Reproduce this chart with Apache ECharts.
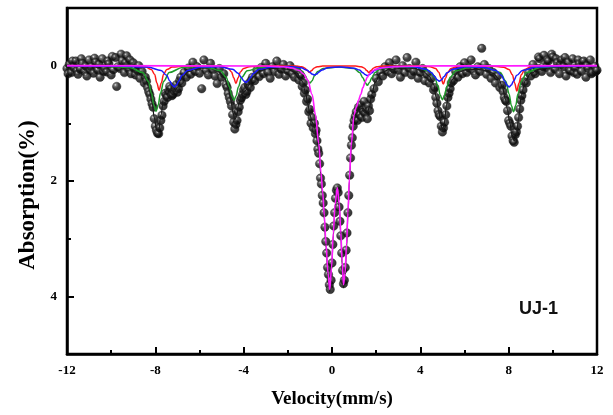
<!DOCTYPE html>
<html>
<head>
<meta charset="utf-8">
<script src="https://cdn.jsdelivr.net/npm/echarts@6.0.0/dist/echarts.min.js"></script>
<style>
html,body{margin:0;padding:0;background:#fff;}
#chart{width:613px;height:415px;}
</style>
</head>
<body>
<div id="chart"></div>
<script>
// ---- axis ticks / labels ----
var xTickLabels = [-12, -8, -4, 0, 4, 8, 12];
var yTickLabels = [0, 2, 4];
var yMinorTicks = [1, 3];
var sampleLabel = 'UJ-1';

// ---- measured spectrum: [velocity (mm/s), absorption (%)] ----
var measured = [
[-12.0,0.05],[-11.95,0.14],[-11.9,-0.02],[-11.8,0.12],[-11.75,-0.08],[-11.7,0.03],[-11.6,-0.08],[-11.55,0.09],[-11.5,0.15],[-11.4,0.06],[-11.35,-0.12],[-11.3,-0.04],[-11.2,0.10],[-11.15,0.01],[-11.1,0.18],[-11.0,-0.10],[-10.95,0.08],[-10.9,0.02],[-10.8,0.13],[-10.75,-0.13],[-10.7,-0.06],[-10.6,0.08],[-10.55,-0.02],[-10.5,0.20],[-10.4,-0.12],[-10.35,0.10],[-10.3,0.04],[-10.2,0.11],[-10.15,-0.08],[-10.1,-0.03],[-10.0,0.16],[-9.95,-0.16],[-9.9,0.07],[-9.8,-0.14],[-9.75,0.36],[-9.7,0.02],[-9.6,0.05],[-9.55,-0.20],[-9.5,-0.09],[-9.4,0.12],[-9.35,-0.05],[-9.3,-0.17],[-9.2,0.06],[-9.15,-0.10],[-9.1,0.14],[-9.0,-0.05],[-8.95,0.05],[-8.9,0.16],[-8.8,0.09],[-8.75,0.00],[-8.7,0.22],
[-8.6,0.10],[-8.5,0.30],[-8.45,0.20],[-8.4,0.27],[-8.35,0.38],[-8.3,0.45],[-8.25,0.50],[-8.2,0.58],[-8.15,0.66],[-8.1,0.72],[-8.05,0.92],[-8.0,1.05],[-7.95,1.12],[-7.9,1.17],[-7.85,1.18],[-7.8,1.08],[-7.75,0.95],[-7.7,0.86],[-7.65,0.70],[-7.6,0.62],[-7.55,0.48],[-7.5,0.51],[-7.45,0.55],[-7.4,0.45],[-7.35,0.36],[-7.3,0.40],[-7.25,0.52],[-7.2,0.50],[-7.15,0.44],[-7.1,0.38],[-7.05,0.33],[-7.0,0.46],[-6.95,0.40],[-6.9,0.26],[-6.85,0.20],[-6.8,0.30],[-6.7,0.12],[-6.6,0.20],[-6.5,0.04],[-6.4,0.15],[-6.3,-0.06],[-6.2,0.10],[-6.1,0.02],[-6.0,0.13],[-5.9,0.40],[-5.8,-0.10],[-5.7,0.08],[-5.6,0.16],[-5.5,-0.04],[-5.4,0.07],[-5.3,0.18],[-5.2,0.31],[-5.1,0.05],[-5.0,0.20],[-4.9,0.14],
[-4.8,0.33],[-4.75,0.38],[-4.7,0.48],[-4.65,0.55],[-4.6,0.62],[-4.55,0.70],[-4.5,0.85],[-4.45,0.98],[-4.4,1.10],[-4.35,1.02],[-4.3,0.95],[-4.25,0.80],[-4.2,0.72],[-4.15,0.60],[-4.1,0.56],[-4.05,0.50],[-4.0,0.42],[-3.95,0.38],[-3.9,0.50],[-3.85,0.45],[-3.8,0.33],[-3.75,0.30],[-3.7,0.38],[-3.65,0.25],[-3.6,0.20],[-3.5,0.26],[-3.4,0.08],[-3.3,0.19],[-3.2,0.03],[-3.1,0.14],[-3.0,-0.04],[-2.9,0.12],[-2.8,0.22],[-2.7,0.02],[-2.6,0.10],[-2.5,-0.08],[-2.4,0.15],[-2.3,0.06],[-2.2,-0.02],[-2.1,0.18],[-2.0,0.09],[-1.9,0.00],[-1.8,0.14],[-1.7,0.20],[-1.6,0.08],
[-1.5,0.25],[-1.45,0.15],[-1.4,0.18],[-1.35,0.36],[-1.3,0.30],[-1.25,0.48],[-1.2,0.42],[-1.15,0.62],[-1.1,0.58],[-1.05,0.80],[-1.0,0.76],[-0.95,1.00],[-0.9,0.90],[-0.85,1.08],[-0.8,1.00],[-0.75,1.18],[-0.72,1.12],[-0.68,1.30],[-0.64,1.45],[-0.6,1.52],[-0.56,1.70],[-0.52,1.95],[-0.48,2.05],[-0.44,2.25],[-0.4,2.38],[-0.36,2.55],[-0.32,2.8],[-0.28,3.05],[-0.24,3.25],[-0.2,3.5],[-0.16,3.62],[-0.12,3.8],[-0.08,3.88],[-0.04,3.72],[0.0,3.42],[0.04,3.1],[0.08,2.78],[0.12,2.55],[0.16,2.3],[0.2,2.16],[0.24,2.12],[0.28,2.2],[0.32,2.45],[0.36,2.7],[0.4,2.95],[0.44,3.25],[0.48,3.55],[0.52,3.78],[0.56,3.72],[0.6,3.5],[0.64,3.2],[0.68,2.9],[0.72,2.55],[0.76,2.25],[0.8,1.9],[0.84,1.6],[0.88,1.38],[0.92,1.25],[0.96,1.05],[1.0,0.95],[1.05,0.88],[1.1,0.8],[1.15,0.95],[1.2,0.72],[1.25,0.85],[1.3,0.68],[1.35,0.9],[1.4,0.78],[1.45,0.62],[1.5,0.83],[1.55,0.75],[1.6,0.92],[1.65,0.7],[1.7,0.78],[1.75,0.58],[1.8,0.5],[1.9,0.4],[2.0,0.22],[2.1,0.28],[2.2,0.12],[2.3,0.18],[2.4,0.02],[2.5,0.10],
[2.6,-0.05],[2.7,0.14],[2.8,0.06],[2.9,-0.10],[3.0,0.08],[3.1,0.20],[3.2,0.00],[3.3,0.12],[3.4,-0.14],[3.5,0.05],[3.6,0.16],[3.7,0.10],[3.8,-0.06],[3.9,0.22],[4.0,0.12],[4.1,0.05],[4.2,0.26],[4.3,0.15],[4.4,0.30],[4.5,0.22],
[4.6,0.42],[4.65,0.38],[4.7,0.55],[4.75,0.65],[4.8,0.78],[4.85,0.85],[4.9,0.88],[4.95,1.05],[5.0,1.15],[5.05,1.08],[5.1,0.98],[5.15,0.85],[5.2,0.70],[5.25,0.55],[5.3,0.48],[5.35,0.40],[5.4,0.30],[5.5,0.26],[5.6,0.10],[5.7,0.20],[5.8,0.02],[5.9,0.14],[6.0,-0.05],[6.1,0.12],[6.2,0.04],[6.3,-0.10],[6.4,0.09],[6.5,0.16],[6.6,0.02],[6.7,0.10],[6.78,-0.30],[6.9,-0.02],[7.0,0.15],[7.1,0.05],[7.2,0.22],[7.3,0.12],[7.4,0.30],[7.5,0.18],[7.6,0.38],[7.7,0.34],
[7.75,0.45],[7.8,0.55],[7.85,0.60],[7.9,0.62],[7.95,0.78],[8.0,0.95],[8.05,1.00],[8.1,1.05],[8.15,1.22],[8.2,1.30],[8.25,1.33],[8.3,1.20],[8.35,1.15],[8.4,1.05],[8.45,0.90],[8.5,0.75],[8.55,0.60],[8.6,0.52],[8.65,0.42],[8.7,0.28],[8.8,0.30],[8.9,0.12],[9.0,0.18],
[9.1,-0.02],[9.15,0.10],[9.2,0.14],[9.3,0.05],[9.35,-0.15],[9.4,-0.12],[9.5,0.10],[9.55,0.02],[9.6,-0.18],[9.7,0.03],[9.75,-0.10],[9.8,-0.08],[9.9,0.12],[9.95,-0.20],[10.0,-0.15],[10.1,0.06],[10.15,-0.12],[10.2,-0.05],[10.3,0.14],[10.35,-0.02],[10.4,-0.10],[10.5,0.02],[10.55,-0.14],[10.6,0.18],[10.7,-0.06],[10.75,0.08],[10.8,0.09],[10.9,-0.12],[10.95,0.12],[11.0,0.04],[11.1,0.15],[11.15,-0.10],[11.2,-0.03],[11.3,0.10],[11.35,-0.06],[11.4,-0.08],[11.5,0.20],[11.55,0.00],[11.6,0.05],[11.7,-0.10],[11.75,0.14],[11.8,0.12],[11.9,0.01],[11.95,0.10],[12.0,0.08]
];

// ---- total fit (black) ----
var fitTotal = [
[-12,0],[-11,0.005],[-10,0.015],[-9.6,0.03],[-9.2,0.045],[-8.8,0.089],[-8.5,0.184],[-8.3,0.354],[-8.15,0.631],[-8.05,0.895],[-7.95,1.097],[-7.85,1.128],[-7.75,0.86],[-7.6,0.496],[-7.45,0.397],[-7.3,0.425],[-7.15,0.457],[-7.0,0.374],[-6.8,0.217],[-6.5,0.10],[-6.0,0.043],[-5.6,0.041],[-5.2,0.084],[-4.9,0.182],[-4.7,0.373],[-4.58,0.597],[-4.48,0.82],[-4.4,0.936],[-4.32,0.875],[-4.22,0.66],[-4.1,0.50],[-3.98,0.454],[-3.88,0.418],[-3.75,0.326],[-3.55,0.186],[-3.3,0.098],[-2.9,0.046],[-2.5,0.05],[-2.0,0.066],[-1.6,0.125],[-1.35,0.27],[-1.2,0.457],[-1.1,0.66],[-1.0,0.85],[-0.9,0.98],[-0.8,1.06],[-0.7,1.24],[-0.6,1.45],[-0.5,1.92],[-0.42,2.27],[-0.35,2.66],[-0.27,3.15],[-0.18,3.65],[-0.1,3.92],[-0.02,3.55],[0.06,2.95],[0.14,2.45],[0.24,2.17],[0.33,2.45],[0.4,2.95],[0.46,3.45],[0.52,3.85],[0.59,3.65],[0.66,3.15],[0.72,2.6],[0.79,2.0],[0.87,1.45],[1.0,0.94],[1.1,0.84],[1.2,0.77],[1.3,0.75],[1.4,0.74],[1.5,0.78],[1.6,0.81],[1.7,0.71],[1.8,0.5],[1.95,0.29],[2.2,0.13],[2.6,0.065],[3.2,0.045],[3.7,0.043],[4.1,0.088],[4.4,0.18],[4.6,0.322],[4.72,0.547],[4.82,0.757],[4.92,0.991],[5.0,1.116],[5.08,1.017],[5.18,0.695],[5.3,0.415],[5.45,0.238],[5.7,0.117],[6.1,0.07],[6.6,0.066],[7.0,0.085],[7.3,0.134],[7.55,0.229],[7.72,0.379],[7.85,0.574],[7.95,0.772],[8.05,0.993],[8.15,1.2],[8.25,1.3],[8.35,1.24],[8.45,0.908],[8.58,0.5],[8.75,0.265],[9.0,0.135],[9.4,0.062],[10,0.028],[11,0.01],[12,0]
];

// ---- sextet A (green) ----
var fitGreen = [
[-12,0],[-10.5,0.01],[-9.17,0.03],[-8.57,0.12],[-8.32,0.27],[-8.17,0.48],[-8.07,0.68],[-7.97,0.79],[-7.87,0.68],[-7.77,0.48],[-7.62,0.27],[-7.37,0.12],[-6.77,0.03],[-6.2,0.02],[-5.64,0.03],[-5.04,0.09],[-4.79,0.2],[-4.64,0.37],[-4.54,0.52],[-4.44,0.6],[-4.34,0.52],[-4.24,0.37],[-4.09,0.2],[-3.84,0.09],[-3.24,0.03],[-2.2,0.02],[-1.6,0.05],[-1.35,0.1],[-1.2,0.18],[-1.1,0.26],[-1.0,0.3],[-0.9,0.26],[-0.8,0.18],[-0.65,0.1],[-0.4,0.05],[0.3,0.025],[1.0,0.05],[1.25,0.12],[1.4,0.21],[1.5,0.29],[1.6,0.34],[1.7,0.29],[1.8,0.21],[1.95,0.12],[2.2,0.05],[2.8,0.02],[3.8,0.025],[4.4,0.09],[4.65,0.2],[4.8,0.36],[4.9,0.51],[5.0,0.59],[5.1,0.51],[5.2,0.36],[5.35,0.2],[5.6,0.09],[6.2,0.03],[6.6,0.025],[7.02,0.035],[7.62,0.12],[7.87,0.27],[8.02,0.49],[8.12,0.69],[8.22,0.8],[8.32,0.69],[8.42,0.49],[8.57,0.27],[8.82,0.12],[9.42,0.03],[10.5,0.01],[12,0]
];

// ---- sextet B (red) ----
var fitRed = [
[-12,0],[-9.03,0.006],[-8.43,0.025],[-8.18,0.067],[-8.03,0.155],[-7.93,0.3],[-7.83,0.43],[-7.73,0.3],[-7.63,0.155],[-7.48,0.067],[-7.23,0.025],[-6.63,0.006],[-5.55,0.005],[-4.95,0.018],[-4.7,0.048],[-4.55,0.11],[-4.45,0.21],[-4.35,0.31],[-4.25,0.21],[-4.15,0.11],[-4.0,0.048],[-3.75,0.018],[-3.15,0.005],[-1.62,0.007],[-1.37,0.019],[-1.22,0.043],[-1.12,0.083],[-1.02,0.12],[-0.92,0.083],[-0.82,0.043],[-0.67,0.019],[-0.42,0.007],[1.07,0.007],[1.32,0.019],[1.47,0.043],[1.57,0.083],[1.67,0.12],[1.77,0.083],[1.87,0.043],[2.02,0.019],[2.27,0.007],[3.84,0.005],[4.44,0.019],[4.69,0.05],[4.84,0.115],[4.94,0.22],[5.04,0.32],[5.14,0.22],[5.24,0.115],[5.39,0.05],[5.64,0.019],[6.24,0.005],[7.17,0.007],[7.77,0.026],[8.02,0.068],[8.17,0.158],[8.27,0.3],[8.37,0.44],[8.47,0.3],[8.57,0.158],[8.72,0.068],[8.97,0.026],[9.57,0.007],[12,0]
];

// ---- sextet C (blue) ----
var fitBlue = [
[-12,0],[-9.5,0.01],[-8.34,0.024],[-7.74,0.082],[-7.49,0.168],[-7.34,0.266],[-7.24,0.337],[-7.14,0.37],[-7.04,0.337],[-6.94,0.266],[-6.79,0.168],[-6.54,0.082],[-5.94,0.024],[-5.1,0.02],[-4.5,0.064],[-4.25,0.132],[-4.1,0.209],[-4.0,0.264],[-3.9,0.29],[-3.8,0.264],[-3.7,0.209],[-3.55,0.132],[-3.3,0.064],[-2.7,0.022],[-2.0,0.014],[-1.4,0.035],[-1.15,0.073],[-1.0,0.115],[-0.9,0.146],[-0.8,0.16],[-0.7,0.146],[-0.6,0.115],[-0.45,0.073],[-0.2,0.035],[0.4,0.022],[1.0,0.043],[1.25,0.077],[1.4,0.122],[1.5,0.155],[1.6,0.17],[1.7,0.155],[1.8,0.122],[1.95,0.077],[2.2,0.038],[2.8,0.013],[3.66,0.02],[4.26,0.06],[4.51,0.123],[4.66,0.194],[4.76,0.246],[4.86,0.27],[4.96,0.246],[5.06,0.194],[5.21,0.123],[5.46,0.06],[6.06,0.02],[6.82,0.026],[7.42,0.082],[7.67,0.168],[7.82,0.266],[7.92,0.337],[8.02,0.37],[8.12,0.337],[8.22,0.266],[8.37,0.168],[8.62,0.082],[9.22,0.024],[10.5,0.008],[12,0]
];

// ---- doublet (magenta) ----
var fitMagenta = [
[-12,0],[-3.0,0.005],[-2.2,0.02],[-1.8,0.04],[-1.5,0.08],[-1.3,0.14],[-1.1,0.25],[-0.9,0.5],[-0.75,0.85],[-0.6,1.35],[-0.5,1.85],[-0.42,2.2],[-0.35,2.6],[-0.27,3.1],[-0.18,3.6],[-0.1,3.88],[-0.02,3.5],[0.06,2.9],[0.14,2.4],[0.24,2.12],[0.33,2.4],[0.4,2.9],[0.46,3.4],[0.52,3.8],[0.59,3.6],[0.66,3.1],[0.72,2.55],[0.79,1.95],[0.87,1.38],[1.0,0.85],[1.1,0.72],[1.2,0.6],[1.3,0.5],[1.4,0.38],[1.5,0.28],[1.6,0.2],[1.7,0.14],[1.85,0.09],[2.0,0.06],[2.3,0.035],[2.8,0.02],[3.5,0.01],[5,0.004],[12,0]
];

var serif = '"Liberation Serif","Times New Roman",serif';
var chart = echarts.init(document.getElementById('chart'), null, {renderer: 'canvas'});

function fitLine(data, color, width, z) {
  return {
    type: 'line', data: data, showSymbol: false, symbol: 'none',
    smooth: 0.35, smoothMonotone: 'x', z: z,
    lineStyle: {color: color, width: width}, silent: true
  };
}

chart.setOption({
  animation: false,
  backgroundColor: '#fff',
  grid: {left: 67, right: 16, top: 8, bottom: 61, show: true, borderColor: '#000', borderWidth: 2.5, backgroundColor: 'transparent'},
  title: {
    text: sampleLabel, left: 519, top: 300, padding: 0,
    textStyle: {fontFamily: '"Liberation Sans",Arial,sans-serif', fontWeight: 'bold', fontSize: 18, color: '#111'}
  },
  xAxis: {
    type: 'value', min: -12, max: 12, interval: 4,
    name: 'Velocity(mm/s)', nameLocation: 'middle', nameGap: 36,
    nameTextStyle: {fontFamily: serif, fontWeight: 'bold', fontSize: 19, color: '#000'},
    axisLine: {show: true, onZero: false, lineStyle: {color: '#000', width: 2.5}},
    axisTick: {show: true, inside: true, length: 7, lineStyle: {color: '#000', width: 2}},
    minorTick: {show: true, splitNumber: 2, length: 4, lineStyle: {color: '#000', width: 2}},
    axisLabel: {
      customValues: xTickLabels, margin: 10,
      fontFamily: serif, fontWeight: 'bold', fontSize: 13, color: '#000'
    },
    splitLine: {show: false}, minorSplitLine: {show: false}
  },
  yAxis: [{
    type: 'value', min: -1, max: 5, interval: 1, inverse: true, position: 'left',
    name: 'Absorption(%)', nameLocation: 'middle', nameGap: 27,
    nameTextStyle: {fontFamily: serif, fontWeight: 'bold', fontSize: 23, color: '#000', padding: [0, 28, 0, 0]},
    axisLine: {show: true, onZero: false, lineStyle: {color: '#000', width: 2.5}},
    axisTick: {show: true, inside: true, length: 7, customValues: yTickLabels, lineStyle: {color: '#000', width: 2}},
    axisLabel: {customValues: yTickLabels, margin: 10, fontFamily: serif, fontWeight: 'bold', fontSize: 13, color: '#000'},
    splitLine: {show: false}
  }, {
    type: 'value', min: -1, max: 5, interval: 1, inverse: true, position: 'left',
    axisLine: {show: false, onZero: false},
    axisTick: {show: true, inside: true, length: 4, customValues: yMinorTicks, lineStyle: {color: '#000', width: 2}},
    axisLabel: {show: false},
    splitLine: {show: false}
  }],
  series: [
    {
      type: 'scatter', data: measured, symbol: 'circle', symbolSize: 8.5, z: 2,
      itemStyle: {
        color: {type: 'radial', x: 0.36, y: 0.33, r: 0.7, colorStops: [
          {offset: 0, color: '#e8e8e8'}, {offset: 0.2, color: '#5a5a5a'}, {offset: 0.5, color: '#111'}, {offset: 1, color: '#000'}
        ]},
        borderColor: '#222', borderWidth: 0.5
      },
      silent: true
    },
    fitLine(fitTotal, '#1a1a1a', 1.2, 3),
    fitLine(fitGreen, '#1f9a2a', 1.5, 4),
    fitLine(fitRed, '#ff1a1a', 1.5, 5),
    fitLine(fitBlue, '#1a1aff', 1.5, 6),
    fitLine(fitMagenta, '#ff1aff', 1.6, 7)
  ]
});
</script>
</body>
</html>
